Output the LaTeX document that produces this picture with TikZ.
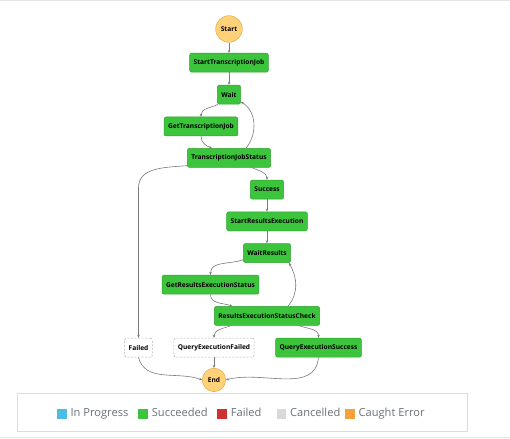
\documentclass[tikz,border=0pt]{standalone}
\usepackage{fontspec}
\setmainfont{Open Sans}
\usetikzlibrary{positioning,arrows.meta,calc}
\definecolor{okgreen}{HTML}{3CC43C}
\definecolor{okedge}{HTML}{2FA32F}
\definecolor{endfill}{HTML}{FFD27A}
\definecolor{enddraw}{HTML}{E3A63F}
\definecolor{linkgray}{HTML}{7A7A7A}
\definecolor{keytext}{HTML}{687078}
\definecolor{keyblue}{HTML}{4DBDE6}
\definecolor{keygreen}{HTML}{3CC43C}
\definecolor{keyred}{HTML}{D13030}
\definecolor{keygray}{HTML}{D9D9D9}
\definecolor{keyorange}{HTML}{F8A13B}
\definecolor{pageline}{HTML}{E6E6E6}
\definecolor{keyframe}{HTML}{D9DDE1}
\newcommand{\statefont}{\fontsize{6.6}{8}\selectfont\bfseries}
\newcommand{\keyfont}{\fontsize{11.1}{13}\selectfont}

\begin{document}
\begin{tikzpicture}[x=1pt,y=1pt,
    task/.style={draw=okedge,fill=okgreen,line width=0.5pt,rounded corners=2pt,minimum height=19pt,inner xsep=4pt,inner ysep=0pt,font=\statefont},
    skipped/.style={draw=gray!60,dash pattern=on 2pt off 1.5pt,line width=0.6pt,fill=white,rounded corners=2pt,minimum height=19pt,inner xsep=4pt,inner ysep=0pt,font=\statefont},
    terminal/.style={circle,draw=enddraw,fill=endfill,line width=0.5pt,inner sep=0pt,font=\statefont},
    link/.style={draw=linkgray,line width=0.6pt,-{Stealth[length=3pt,width=2.6pt]}},
    swatch/.style={fill=#1,minimum size=9.5pt,inner sep=0pt},
    keylabel/.style={inner sep=0pt,text=keytext,font=\keyfont,text height=8pt,text depth=2.2pt}]
    \useasboundingbox (0,0) rectangle (510,-438);
    \draw[pageline,line width=1.5pt] (0,-0.75) -- (510,-0.75);
    \draw[pageline,line width=1.5pt] (0,-437.25) -- (510,-437.25);
    \node[terminal,minimum size=26.6pt] (start) at (229,-29) {Start};
    \node[task,below=10.4pt of start] (stj) {StartTranscriptionJob};
    \node[task,below=12.4pt of stj] (wait) {Wait};
    \node[task,below=12.4pt of wait,xshift=-28pt] (gtj) {GetTranscriptionJob};
    \node[task,below=43.8pt of wait] (tjs) {TranscriptionJobStatus};
    \node[task,below=12.2pt of tjs,xshift=38pt] (succ) {Success};
    \node[task,below=12.2pt of succ] (sre) {StartResultsExecution};
    \node[task,below=12.2pt of sre] (wres) {WaitResults};
    \node[task,below=12.2pt of wres,xshift=-56.5pt] (gres) {GetResultsExecutionStatus};
    \node[task,below=43.4pt of wres] (resc) {ResultsExecutionStatusCheck};
    \node[skipped,below=12.2pt of resc,xshift=-128.5pt] (fail) {Failed};
    \node[skipped,below=12.2pt of resc,xshift=-53pt] (qef) {QueryExecutionFailed};
    \node[task,below=12.2pt of resc,xshift=51.5pt] (qes) {QueryExecutionSuccess};
    \node[terminal,minimum size=23.4pt,below=10.5pt of qef] (stop) {End};
    \draw[link] (start) -- (stj);
    \draw[link] (stj) -- (wait);
    \draw[link] ([xshift=1pt]wait.south west) to[out=-155,in=90] (gtj.north);
    \draw[link] (gtj.south) to[out=-90,in=160] ([xshift=-17pt]tjs.north);
    \draw[link] ([xshift=17pt]tjs.north) to[out=50,in=-30] ([yshift=2.5pt]wait.south east);
    \draw[link] ([xshift=23pt]tjs.south) to[out=-25,in=90] (succ.north);
    \draw[link] ([yshift=2pt]tjs.south west) to[out=185,in=90] ($(fail.north |- tjs.south)+(0,-20pt)$) -- (fail.north);
    \draw[link] (succ) -- (sre);
    \draw[link] (sre) -- (wres);
    \draw[link] ([yshift=3pt]wres.south west) to[out=-160,in=90] (gres.north);
    \draw[link] (gres.south) to[out=-90,in=160] ([xshift=-34.8pt]resc.north);
    \draw[link] ([xshift=21pt]resc.north) to[out=50,in=-60] ([xshift=-2pt]wres.south east);
    \draw[link] ([xshift=-36pt]resc.south) to[out=-160,in=90] (qef.north);
    \draw[link] ([xshift=32pt]resc.south) to[out=-20,in=90] (qes.north);
    \draw[link] (fail.south) to[out=-75,in=160] (stop.west);
    \draw[link] (qef.south) -- (stop.north);
    \draw[link] (qes.south) to[out=-95,in=15] (stop.east);
    \draw[keyframe,line width=1pt] (17,-393) rectangle (467,-431);
    \node[swatch=keyblue] (kprog) at (62,-414) {};
    \node[keylabel,right=3.5pt of kprog] (lprog) {In Progress};
    \node[swatch=keygreen] (kdone) at (143.2,-414) {};
    \node[keylabel,right=3.5pt of kdone] (ldone) {Succeeded};
    \node[swatch=keyred] (kfail) at (222.2,-414) {};
    \node[keylabel,right=3.5pt of kfail] (lfail) {Failed};
    \node[swatch=keygray] (kstop) at (281.5,-414) {};
    \node[keylabel,right=3.5pt of kstop] (lstop) {Cancelled};
    \node[swatch=keyorange] (kcatch) at (350,-414) {};
    \node[keylabel,right=3.5pt of kcatch] (lcatch) {Caught Error};
\end{tikzpicture}
\end{document}
